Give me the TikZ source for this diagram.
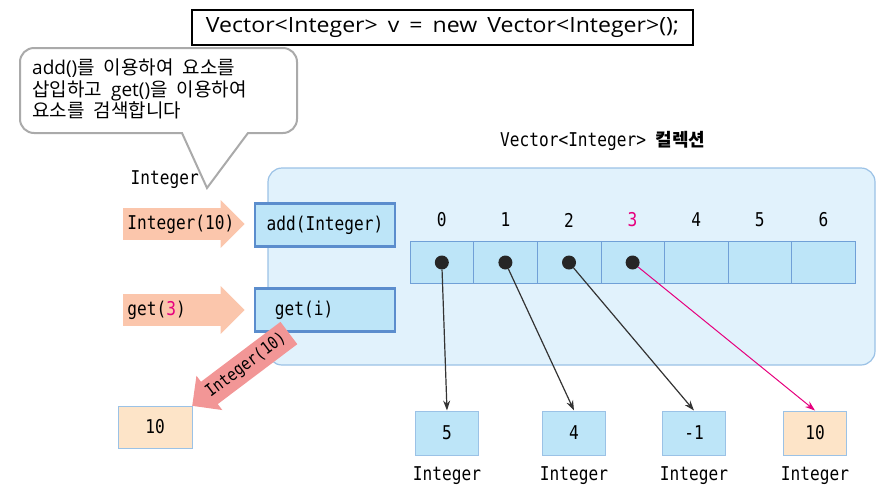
\documentclass[tikz,border=0pt]{standalone}
\usepackage{fontspec}
\setmainfont{Noto Sans CJK KR}
\newfontfamily\latfont{Open Sans}
\newfontfamily\widefont{Open Sans}[FakeStretch=1.1]
\newfontfamily\codefont{DejaVu Sans Mono}[FakeStretch=0.85]
\usetikzlibrary{shapes.arrows,arrows.meta}

\definecolor{collfill}{RGB}{225,242,252}
\definecolor{collline}{RGB}{155,194,230}
\definecolor{cellfill}{RGB}{189,229,248}
\definecolor{cellline}{RGB}{112,160,215}
\definecolor{methline}{RGB}{91,141,205}
\definecolor{callline}{RGB}{170,170,170}
\definecolor{callarrow}{RGB}{251,198,172}
\definecolor{retarrow}{RGB}{242,150,150}
\definecolor{objfill}{RGB}{253,228,200}
\definecolor{hot}{RGB}{230,0,126}

\tikzset{
  code/.style={font=\codefont\fontsize{19}{22}\selectfont},
  cell/.style={draw=cellline, fill=cellfill, minimum width=63.6pt, minimum height=42pt, inner sep=0pt},
  method/.style={code, draw=methline, line width=2.5pt, fill=cellfill, minimum width=140pt, minimum height=43pt, inner sep=0pt},
  obj/.style={code, draw=collline, line width=1pt, fill=cellfill, minimum width=63pt, minimum height=44pt, inner sep=0pt},
  callarr/.style={code, single arrow, fill=callarrow, text width=97pt, align=left, inner xsep=4pt, inner ysep=6.5pt, single arrow head extend=8pt},
  ptr/.style={circle, fill=black!85, inner sep=0pt, minimum size=14pt},
  ref/.style={draw=black!80, line width=1.2pt, -{Stealth[length=10pt,width=7pt]}}
}

\begin{document}
\begin{tikzpicture}[x=1pt,y=-1pt]
    \useasboundingbox (0,0) rectangle (881,488);

    % declaration
    \node[draw, line width=1.5pt, minimum width=501pt, minimum height=35pt, font=\widefont\fontsize{21}{22}\selectfont] (decl) at (442.5,27.5) {\spaceskip=10pt Vector<Integer> v = new Vector<Integer>();};

    % speech bubble
    \draw[draw=callline, line width=2pt, fill=white] (207,188) -- (182,133) [rounded corners=14pt] -- (20,133) -- (20,48) -- (297,48) -- (297,133) [sharp corners] -- (248,133) -- cycle;
    \node[anchor=north west, align=left, inner sep=0pt, font=\fontsize{19}{21.5}\selectfont] (note) at (32,59) {\spaceskip=9pt {\latfont add()}를 이용하여 요소를\\\spaceskip=9pt 삽입하고 {\latfont get()}을 이용하여\\\spaceskip=9pt 요소를 검색합니다};
    \node[code, anchor=east, inner sep=0pt] (lbl) at (199,180) {Integer};

    % the collection
    \node[draw=collline, line width=1.2pt, fill=collfill, rounded corners=14pt, minimum width=607pt, minimum height=197pt] (coll) at (571.5,266.5) {};
    \node[code, anchor=west, inner sep=0pt] (title) at (500,141) {Vector<Integer> {\rmfamily\bfseries\fontsize{18}{20}\selectfont 컬렉션}};

    \node[method] (add) at (325,225) {add(Integer)};
    \node[method] (get) at (325,310) {\hspace{-2.2em}get(i)};

    % slots
    \node[cell] (c0) at (441.8,262.5) {};
    \node[cell] (c1) at (505.4,262.5) {};
    \node[cell] (c2) at (569.0,262.5) {};
    \node[cell] (c3) at (632.6,262.5) {};
    \node[cell] (c4) at (696.2,262.5) {};
    \node[cell] (c5) at (759.8,262.5) {};
    \node[cell] (c6) at (823.4,262.5) {};
    \node[code] (i0) at (441.8,220) {0};
    \node[code] (i1) at (505.4,220) {1};
    \node[code] (i2) at (569.0,220) {2};
    \node[code, text=hot] (i3) at (632.6,220) {3};
    \node[code] (i4) at (696.2,220) {4};
    \node[code] (i5) at (759.8,220) {5};
    \node[code] (i6) at (823.4,220) {6};
    \node[ptr] (p0) at (c0) {};
    \node[ptr] (p1) at (c1) {};
    \node[ptr] (p2) at (c2) {};
    \node[ptr] (p3) at (c3) {};

    % Integer objects
    \node[obj] (v0) at (447,433) {5};
    \node[obj] (v1) at (574,433) {4};
    \node[obj] (v2) at (694,433) {-1};
    \node[obj, fill=objfill] (v3) at (815,433) {10};
    \node[code] (t0) at (447,476) {Integer};
    \node[code] (t1) at (574,476) {Integer};
    \node[code] (t2) at (694,476) {Integer};
    \node[code] (t3) at (815,476) {Integer};

    \draw[ref] (p0) -- (v0.north);
    \draw[ref] (p1) -- (v1.north);
    \draw[ref] (p2) -- (v2.north);
    \draw[ref, draw=hot, line width=1pt] (p3) -- (v3.north);

    % calls
    \node[callarr, anchor=tail] (in1) at (123,224) {Integer(10)};
    \node[callarr, anchor=tail] (in2) at (123,310) {get({\color{hot}3})};

    % returned value
    \node[obj, fill=objfill, minimum width=74pt, minimum height=42pt] (res) at (155,427) {10};
    \node[code, font=\codefont\fontsize{17}{20}\selectfont, single arrow, fill=retarrow, inner xsep=1pt, inner ysep=5.5pt, minimum height=121pt, single arrow head extend=7.5pt, shape border rotate=180, rotate=37, anchor=tip] (out) at (192,406) {Integer(10)};
\end{tikzpicture}
\end{document}
